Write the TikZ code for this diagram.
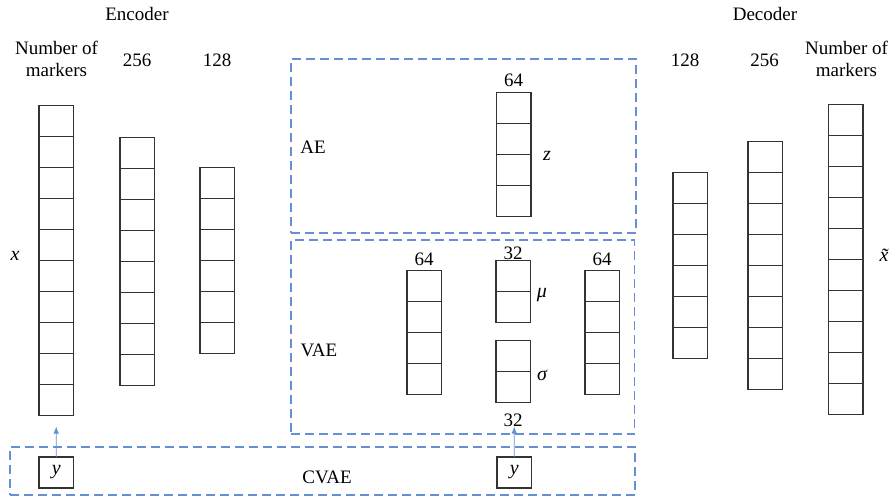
\documentclass[tikz,border=0pt]{standalone}
\usepackage{fontspec}
\setmainfont{Liberation Serif}
\usetikzlibrary{arrows.meta}
\definecolor{dashblue}{RGB}{104,143,214}
\newcommand\layerstack[4]{%
  \node[cellstack, minimum height=#4*31pt] (#1) at (#2,#3) {};
  \pgfmathtruncatemacro\lastk{#4-1}%
  \foreach \k in {1,...,\lastk}{
    \draw[cellline] ([yshift=-\k*31pt]#1.north west) -- ([yshift=-\k*31pt]#1.north east);
  }%
}
\begin{document}
\begin{tikzpicture}[x=1pt,y=-1pt,
  cellline/.style={draw=black!80, line width=1.1pt},
  cellstack/.style={draw=black!80, line width=1.1pt, inner sep=0, outer sep=0, minimum width=34.5pt, anchor=north west},
  region/.style={draw=dashblue, line width=1.8pt, dash pattern=on 9pt off 5pt, inner sep=0, outer sep=0, anchor=north west},
  lbl/.style={font=\fontsize{19}{22}\selectfont, inner sep=0, align=center},
  sym/.style={font=\fontsize{20}{22}\selectfont\itshape, inner sep=0},
  ybox/.style={draw=black!80, line width=1.1pt, minimum width=34.5pt, minimum height=31pt, inner sep=0, outer sep=0, anchor=north west, font=\fontsize{20}{22}\selectfont\itshape},
  condarrow/.style={draw=dashblue, line width=0.8pt, -{Latex[length=7pt,width=5.5pt]}}]
\useasboundingbox (0,0) rectangle (893,496);

% regions
\node[region, minimum width=345pt, minimum height=174pt] (ae) at (291,59) {};
\node[region, minimum width=343.5pt, minimum height=194.3pt] (vae) at (291,240) {};
\node[region, minimum width=625pt, minimum height=48pt] (cvae) at (10,447) {};

% encoder
\layerstack{encM}{39}{105.5}{10}
\layerstack{encA}{120}{137.5}{8}
\layerstack{encB}{200}{167.5}{6}
% AE latent
\layerstack{aez}{496.5}{92.5}{4}
% VAE
\layerstack{vaeL}{407}{270.5}{4}
\layerstack{mu}{496}{260.5}{2}
\layerstack{sigma}{496}{340.5}{2}
\layerstack{vaeR}{585}{270.5}{4}
% decoder
\layerstack{decB}{673}{172.5}{6}
\layerstack{decA}{748}{141.5}{8}
\layerstack{decM}{828.5}{104.5}{10}

% condition boxes
\node[ybox] (yL) at (39,457) {y};
\node[ybox] (yR) at (497,457) {y};
\coordinate (yLend) at (56.2,426.5);
\coordinate (yRend) at (514.2,426.5);
\draw[condarrow] (yL.north) -- (yLend);
\draw[condarrow] (yR.north) -- (yRend);

% labels
\node[lbl] (tEnc) at (137,14) {Encoder};
\node[lbl] (tEncM) at (56.5,59) {Number of\\markers};
\node[lbl] (tEncA) at (137,60) {256};
\node[lbl] (tEncB) at (217,60) {128};
\node[lbl] (tDec) at (765,14) {Decoder};
\node[lbl] (tDecB) at (685,60) {128};
\node[lbl] (tDecA) at (764.5,60) {256};
\node[lbl] (tDecM) at (846.5,59) {Number of\\markers};
\node[sym] (tx) at (15,256) {x};
\node[sym] (txt) at (884,255) {x̃};

\node[lbl] (tAEsize) at (513.5,80) {64};
\node[lbl] (tAE) at (313,147) {AE};
\node[sym] (tz) at (547,156) {z};

\node[lbl] (tVAE) at (319,350) {VAE};
\node[lbl] (tL64) at (424,259) {64};
\node[lbl] (tMu32) at (513,253) {32};
\node[lbl] (tR64) at (602,259) {64};
\node[sym] (tmu) at (542,295) {μ};
\node[sym] (tsigma) at (542,375) {σ};
\node[lbl] (tSig32) at (513,420) {32};

\node[lbl] (tCVAE) at (327,477) {CVAE};
\end{tikzpicture}
\end{document}
